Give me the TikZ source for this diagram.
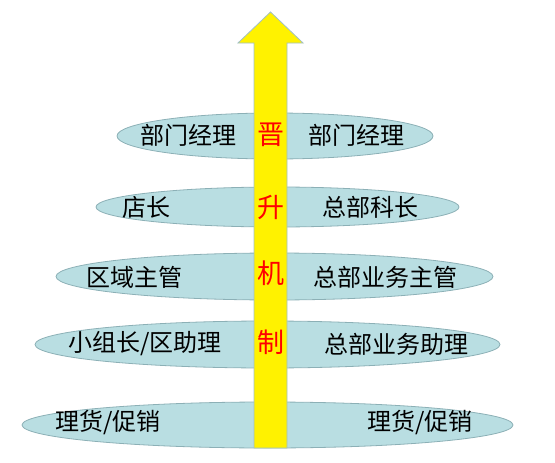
\documentclass[tikz,border=0pt]{standalone}
\usepackage{fontspec}
\setmainfont{Noto Sans CJK SC}
\usetikzlibrary{shapes.geometric}
\definecolor{rungfill}{RGB}{185,222,226}
\definecolor{rungline}{RGB}{140,176,182}
\definecolor{shaftline}{RGB}{160,192,200}

\begin{document}
\begin{tikzpicture}[
  x=1pt, y=-1pt, font=\fontsize{24}{28}\selectfont,
  rung/.style={ellipse, draw=rungline, fill=rungfill, line width=0.8pt,
               inner sep=0pt},
  post/.style={anchor=west, inner sep=0pt, text=black},
  rank/.style={inner sep=0pt, text=red, font=\fontsize{27}{30}\selectfont}
]
\useasboundingbox (0,0) rectangle (555,463);
% ellipses, one per level
\foreach \n/\cx/\cy/\w/\h in {1/275/136/316/46, 2/277.5/207/363/40,
    3/274.5/276.5/437/47, 4/267.5/344.5/465/47, 5/267.5/425/491/46}
  \node[rung, minimum width=\w pt, minimum height=\h pt] (e\n) at (\cx,\cy) {};
% the upward arrow
\draw[fill=yellow, draw=shaftline, line width=0.8pt]
  (254,448) -- (254,43) -- (238,43) -- (270.5,12) -- (303,43)
  -- (287,43) -- (287,448) -- cycle;
% left column
\node[post] (l1) at (140,135) {部门经理};
\node[post] (l2) at (122,207) {店长};
\node[post] (l3) at (86,277) {区域主管};
\node[post] (l4) at (68,344) {小组长/区助理};
\node[post] (l5) at (55,423) {理货/促销};
% right column
\node[post] (r1) at (308,135) {部门经理};
\node[post] (r2) at (322,207) {总部科长};
\node[post] (r3) at (313,277) {总部业务主管};
\node[post] (r4) at (324,344) {总部业务助理};
\node[post] (r5) at (367,423) {理货/促销};
% text on the arrow
\node[rank] (k1) at (271,135) {晋};
\node[rank] (k2) at (271,207) {升};
\node[rank] (k3) at (271,273) {机};
\node[rank] (k4) at (271,342) {制};
\end{tikzpicture}
\end{document}
